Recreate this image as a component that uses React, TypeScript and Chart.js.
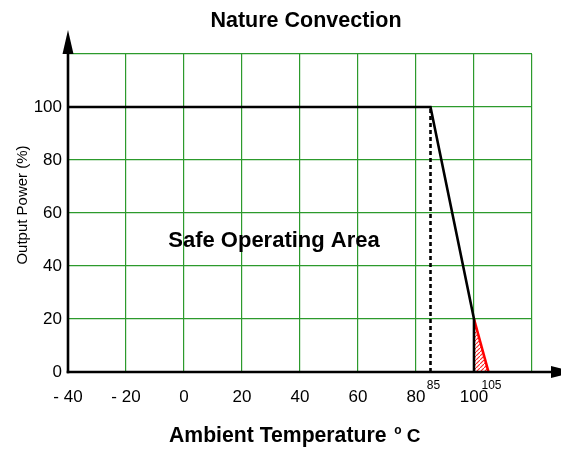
import React, { useEffect, useRef } from 'react';
import { Chart, registerables } from 'chart.js';

Chart.register(...registerables);

const FONT = '"Liberation Sans", Arial, Helvetica, sans-serif';

const chartTitle = 'Nature Convection';
const xAxisTitle = 'Ambient Temperature ';
const xAxisDegree = 'o';
const xAxisUnit = 'C';
const yAxisTitle = 'Output Power (%)';
const areaLabel = 'Safe Operating Area';

const xGridValues = [-40, -20, 0, 20, 40, 60, 80, 100, 120];
const xTickLabels = ['- 40', '- 20', '0', '20', '40', '60', '80', '100', ''];
const yGridValues = [0, 20, 40, 60, 80, 100, 120];
const yTickLabels = ['0', '20', '40', '60', '80', '100', ''];

const curveTemp = [-40, 85, 100];
const curvePower = [100, 100, 20];
const overTemp = [100, 105];
const overPower = [20, 0];
const kneeTemp = [85, 85];
const kneePower = [0, 100];
const cutTemp = [100, 100];
const cutPower = [0, 20];
const markerTemps = [85, 105];
const markerLabels = ['85', '105'];
const areaPoint = [30, 50];

const pts = (xs: number[], ys: number[]) => xs.map((x, i) => ({ x, y: ys[i] }));

const decor = {
  id: 'decor',
  afterDatasetsDraw(chart: any) {
    const { ctx, chartArea, scales } = chart;
    const { left, right, top, bottom } = chartArea;
    const x = scales.x;
    const y = scales.y;
    ctx.save();
    ctx.strokeStyle = '#000';
    ctx.fillStyle = '#000';
    ctx.lineWidth = 2.6;
    ctx.lineCap = 'butt';
    // y axis
    ctx.beginPath();
    ctx.moveTo(left, bottom + 1.3);
    ctx.lineTo(left, top - 2);
    ctx.stroke();
    // x axis
    ctx.beginPath();
    ctx.moveTo(left - 1.3, bottom);
    ctx.lineTo(right + 20, bottom);
    ctx.stroke();
    // arrows
    ctx.beginPath();
    ctx.moveTo(left, top - 24);
    ctx.lineTo(left - 5.5, top);
    ctx.lineTo(left + 5.5, top);
    ctx.closePath();
    ctx.fill();
    ctx.beginPath();
    ctx.moveTo(right + 42, bottom);
    ctx.lineTo(right + 19, bottom - 6);
    ctx.lineTo(right + 19, bottom + 6);
    ctx.closePath();
    ctx.fill();

    // marker labels
    ctx.font = `12px ${FONT}`;
    ctx.textAlign = 'center';
    ctx.textBaseline = 'alphabetic';
    markerTemps.forEach((t, i) => {
      ctx.fillText(markerLabels[i], x.getPixelForValue(t) + 3, bottom + 16.5);
    });

    // area label
    ctx.font = `bold 22px ${FONT}`;
    ctx.textAlign = 'center';
    ctx.fillText(areaLabel, x.getPixelForValue(areaPoint[0]) + 3, y.getPixelForValue(areaPoint[1]) + 7.2);
    ctx.restore();
  },
  afterDraw(chart: any) {
    const { ctx } = chart;
    ctx.save();
    ctx.fillStyle = '#000';
    ctx.textBaseline = 'alphabetic';
    // title
    ctx.font = `bold 21.5px ${FONT}`;
    ctx.textAlign = 'center';
    ctx.fillText(chartTitle, 306, 26.7);
    // x title
    ctx.textAlign = 'left';
    ctx.font = `bold 21.2px ${FONT}`;
    const w1 = ctx.measureText(xAxisTitle).width;
    const startX = 169;
    ctx.fillText(xAxisTitle, startX, 441.7);
    ctx.font = `bold 12px ${FONT}`;
    const w2 = ctx.measureText(xAxisDegree).width;
    ctx.fillText(xAxisDegree, startX + w1 + 2, 433.5);
    ctx.font = `bold 19px ${FONT}`;
    ctx.fillText(xAxisUnit, startX + w1 + w2 + 7, 441.7);
    // y title
    ctx.translate(22.5, 205);
    ctx.rotate(-Math.PI / 2);
    ctx.font = `15px ${FONT}`;
    ctx.textAlign = 'center';
    ctx.textBaseline = 'middle';
    ctx.fillText(yAxisTitle, 0, 0);
    ctx.restore();
  },
};

export default function App() {
  const ref = useRef<HTMLCanvasElement | null>(null);
  useEffect(() => {
    const canvas = ref.current;
    if (!canvas) return;
    const pc = document.createElement('canvas');
    pc.width = 4;
    pc.height = 4;
    const p = pc.getContext('2d')!;
    p.strokeStyle = '#ff2020';
    p.lineWidth = 1.1;
    p.beginPath();
    p.moveTo(-1, 5);
    p.lineTo(5, -1);
    p.stroke();
    const pattern = canvas.getContext('2d')!.createPattern(pc, 'repeat');

    const chart = new Chart(canvas, {
      type: 'line',
      data: {
        datasets: [
          { data: pts(curveTemp, curvePower), borderColor: '#000', borderWidth: 2.6, pointRadius: 0, fill: false, order: 1 },
          { data: pts(kneeTemp, kneePower), borderColor: '#000', borderWidth: 2.6, borderDash: [4, 3], pointRadius: 0, fill: false, order: 2 },
          { data: pts(cutTemp, cutPower), borderColor: '#000', borderWidth: 2.6, pointRadius: 0, fill: false, order: 3 },
          { data: pts(overTemp, overPower), borderColor: '#ff0000', borderWidth: 2.6, pointRadius: 0, fill: 'origin', backgroundColor: pattern as any, order: 4 },
        ],
      } as any,
      options: {
        animation: false,
        responsive: false,
        events: [],
        layout: { padding: { top: 54, right: 29, left: 0, bottom: 0 } },
        plugins: { legend: { display: false }, tooltip: { enabled: false }, title: { display: false } },
        scales: {
          x: {
            type: 'linear',
            min: -40,
            max: 120,
            afterBuildTicks: (s: any) => { s.ticks = xGridValues.map((v) => ({ value: v })); },
            afterFit: (s: any) => { s.height = 77; },
            grid: { color: '#2c9a2c', lineWidth: 1.2, drawTicks: false },
            border: { display: false },
            ticks: {
              autoSkip: false,
              maxRotation: 0,
              padding: 15,
              color: '#000',
              font: { family: FONT, size: 17 },
              callback: (_v: any, i: number) => xTickLabels[i],
            },
          },
          y: {
            type: 'linear',
            min: 0,
            max: 120,
            afterBuildTicks: (s: any) => { s.ticks = yGridValues.map((v) => ({ value: v })); },
            afterFit: (s: any) => { s.width = 68; },
            grid: { color: '#2c9a2c', lineWidth: 1.2, drawTicks: false },
            border: { display: false },
            ticks: {
              autoSkip: false,
              padding: 6,
              color: '#000',
              font: { family: FONT, size: 17 },
              callback: (_v: any, i: number) => yTickLabels[i],
            },
          },
        },
      } as any,
      plugins: [decor],
    });
    return () => chart.destroy();
  }, []);
  return (
    <div style={{ position: 'fixed', left: 0, top: 0, width: 561, height: 449, background: '#fff' }}>
      <canvas ref={ref} width={561} height={449} style={{ width: 561, height: 449, display: 'block' }} />
    </div>
  );
}
